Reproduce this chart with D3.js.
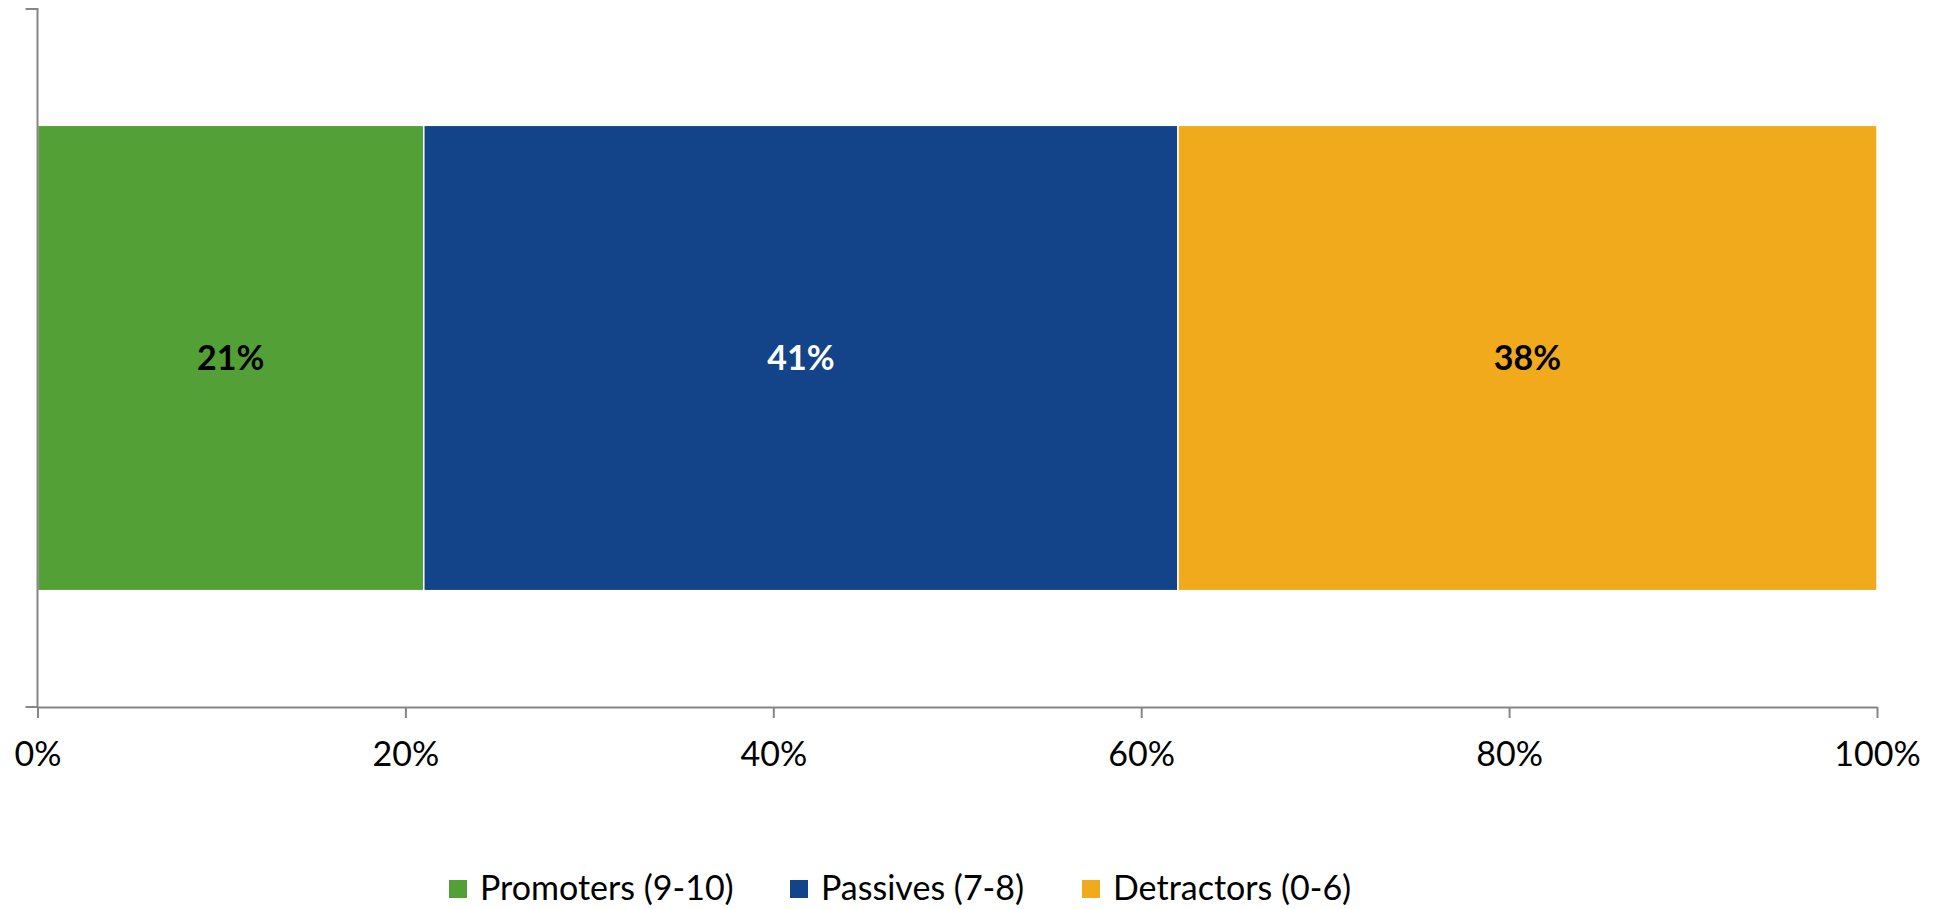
<!DOCTYPE html>
<html>
<head>
<meta charset="utf-8">
<title>NPS breakdown</title>
<style>
  body { margin: 0; background: #fff; }
  svg { display: block; font-family: Lato, "Open Sans", sans-serif; }
  .axis path, .axis line { stroke: #868686; stroke-width: 2; }
</style>
</head>
<body>
<div id="chart"></div>
<script src="https://d3js.org/d3.v7.min.js"></script>
<script>
// data
var categories = ["NPS"];
var seriesNames = ["Promoters (9-10)", "Passives (7-8)", "Detractors (0-6)"];
var seriesValues = [0.21, 0.41, 0.38];
var seriesColors = ["#53a036", "#134389", "#f0aa1c"];
var labelColors = ["#000", "#fff", "#000"];
var xTicks = [0, 0.2, 0.4, 0.6, 0.8, 1];

var w = 1936, h = 909;
var padL = 37.5, padR = 1877, padT = 9, padB = 707;

var svg = d3.select("#chart").append("svg")
  .attr("width", w)
  .attr("height", h);

var x = d3.scaleLinear().domain([0, 1]).range([padL, padR]);
var y = d3.scaleBand().domain(categories).range([padT, padB]).padding(0.2);

// stack the segments
var start = 0;
var segs = seriesValues.map(function(v, i) {
  var s = { name: seriesNames[i], x0: start, x1: start + v, v: v, i: i };
  start += v;
  return s;
});

svg.selectAll("rect.seg")
  .data(segs)
  .enter()
  .append("rect")
  .attr("class", "seg")
  .attr("x", function(d) { return x(d.x0); })
  .attr("width", function(d) { return x(d.x1) - x(d.x0); })
  .attr("y", y(categories[0]))
  .attr("height", y.bandwidth())
  .attr("fill", function(d) { return seriesColors[d.i]; })
  .attr("stroke", "#fff")
  .attr("stroke-width", 1.5);

svg.selectAll("text.lbl")
  .data(segs)
  .enter()
  .append("text")
  .attr("class", "lbl")
  .attr("x", function(d) { return (x(d.x0) + x(d.x1)) / 2; })
  .attr("y", y(categories[0]) + y.bandwidth() / 2)
  .attr("dy", "0.36em")
  .attr("text-anchor", "middle")
  .attr("font-size", "34px")
  .attr("font-weight", "bold")
  .attr("fill", function(d) { return labelColors[d.i]; })
  .text(function(d) { return Math.round(d.v * 100) + "%"; });

// x axis
var xAxis = svg.append("g")
  .attr("class", "axis")
  .attr("transform", "translate(0," + padB + ")")
  .call(d3.axisBottom(x)
    .tickValues(xTicks)
    .tickFormat(d3.format(".0%"))
    .tickSizeInner(11)
    .tickSizeOuter(0)
    .tickPadding(24));
xAxis.selectAll("text")
  .attr("font-size", "34px")
  .attr("font-family", "Lato, 'Open Sans', sans-serif")
  .attr("fill", "#000");

// y axis: ticks at band edges only
var yAxis = svg.append("g")
  .attr("class", "axis")
  .attr("transform", "translate(" + padL + ",0)")
  .call(d3.axisLeft(y).tickSize(0).tickFormat(""));
yAxis.select(".domain").attr("d", "M-12," + padT + "H0V" + padB + "H-12");

// legend (nudged up a little so the descenders stay inside)
var legendX = [449, 790, 1082];
var leg = svg.selectAll("g.leg")
  .data(seriesNames)
  .enter()
  .append("g")
  .attr("class", "leg")
  .attr("transform", function(d, i) { return "translate(" + legendX[i] + ",880)"; });
leg.append("rect")
  .attr("width", 18)
  .attr("height", 18)
  .attr("fill", function(d, i) { return seriesColors[i]; });
leg.append("text")
  .attr("x", 31)
  .attr("y", 20)
  .attr("font-size", "34px")
  .attr("fill", "#000")
  .text(function(d) { return d; });
</script>
</body>
</html>
